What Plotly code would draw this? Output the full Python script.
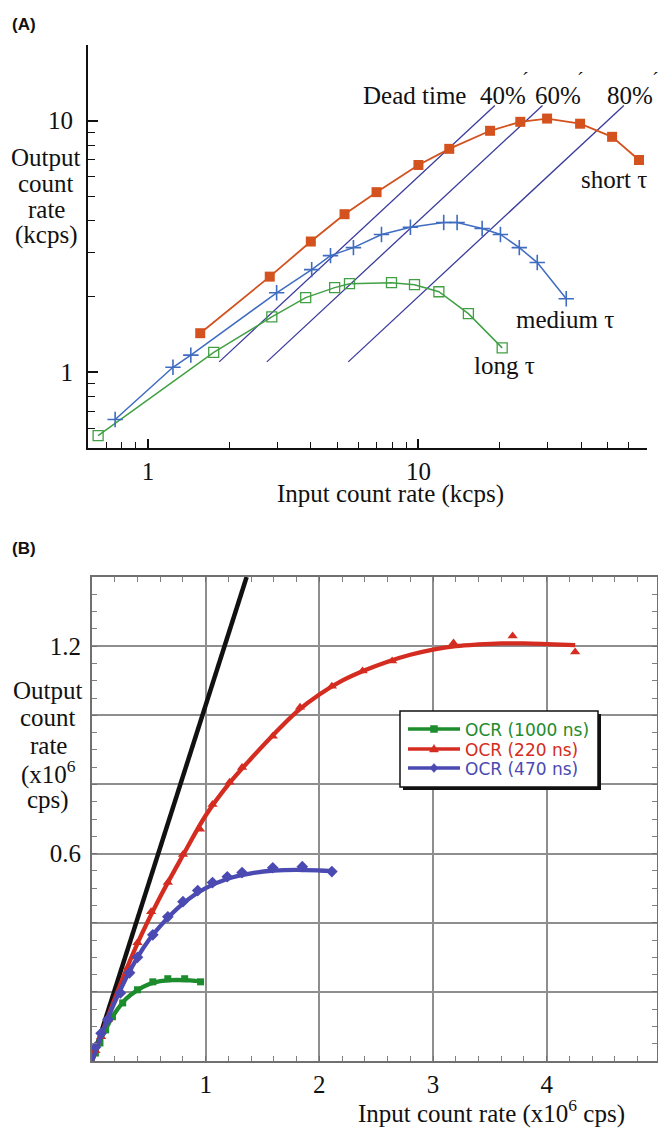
import plotly.graph_objects as go

W, H = 658, 1128

# ---------------- Panel A: log-log count rates (kcps) ----------------
short_x = [1.56, 2.82, 4.0, 5.33, 7.0, 10.0, 13.0, 18.4, 23.8, 29.9, 39.6, 52.0, 65.4]
short_y = [1.43, 2.40, 3.31, 4.25, 5.2, 6.67, 7.73, 9.12, 9.9, 10.2, 9.73, 8.63, 6.98]

medium_x = [0.756, 1.237, 1.44, 2.99, 4.03, 4.73, 5.75, 7.3, 9.34, 12.4, 13.9, 17.2,
            20.1, 23.6, 27.5, 35.2]
medium_y = [0.649, 1.047, 1.17, 2.07, 2.56, 2.91, 3.13, 3.53, 3.77, 3.94, 3.94, 3.73,
            3.53, 3.13, 2.73, 1.96]

long_x = [0.654, 1.75, 2.87, 3.83, 4.9, 5.56, 7.95, 9.67, 11.9, 15.3, 20.4]
long_y = [0.56, 1.20, 1.66, 1.98, 2.17, 2.25, 2.27, 2.23, 2.09, 1.71, 1.25]

# iso-dead-time lines: output = (1 - dead_time) * input
dead_time = [0.4, 0.6, 0.8]
dead_time_labels = ["40%", "60%", "80%"]
dt_out_span = [1.1, 11.5]

# ---------------- Panel B: linear count rates (x10^6 cps) ----------------
ideal_x = [0.0, 1.36]
ideal_y = [0.0, 1.40]

ocr220_x = [0.03, 0.08, 0.14, 0.32, 0.40, 0.52, 0.667, 0.80, 0.95, 1.06, 1.21, 1.32,
            1.59, 1.83, 2.11, 2.38, 2.64, 3.18, 3.70, 4.25]
ocr220_y = [0.03, 0.07, 0.12, 0.272, 0.342, 0.432, 0.516, 0.597, 0.67, 0.742, 0.806,
            0.849, 0.939, 1.023, 1.084, 1.128, 1.157, 1.209, 1.229, 1.183]
fit220_x = [0.0, 0.2, 0.4, 0.6, 0.8, 1.0, 1.2, 1.4, 1.6, 1.8, 2.0, 2.2, 2.4, 2.6, 2.8,
            3.0, 3.2, 3.4, 3.6, 3.8, 4.0, 4.25]
fit220_y = [0.0, 0.18, 0.34, 0.475, 0.595, 0.71, 0.80, 0.875, 0.945, 1.01, 1.06, 1.10,
            1.13, 1.155, 1.175, 1.19, 1.20, 1.205, 1.208, 1.208, 1.206, 1.203]

ocr470_x = [0.03, 0.08, 0.14, 0.25, 0.33, 0.40, 0.535, 0.667, 0.80, 0.93, 1.06, 1.19,
            1.32, 1.59, 1.85, 2.11]
ocr470_y = [0.04, 0.08, 0.12, 0.197, 0.255, 0.30, 0.365, 0.417, 0.461, 0.493, 0.516,
            0.533, 0.545, 0.559, 0.562, 0.548]
fit470_x = [0.0, 0.1, 0.2, 0.3, 0.4, 0.5, 0.6, 0.7, 0.8, 0.9, 1.0, 1.2, 1.4, 1.6, 1.8,
            2.0, 2.11]
fit470_y = [0.0, 0.09, 0.17, 0.24, 0.30, 0.35, 0.39, 0.425, 0.455, 0.48, 0.50, 0.528,
            0.543, 0.551, 0.553, 0.551, 0.549]

ocr1000_x = [0.03, 0.07, 0.12, 0.18, 0.27, 0.40, 0.535, 0.667, 0.815, 0.955]
ocr1000_y = [0.023, 0.052, 0.09, 0.128, 0.168, 0.206, 0.229, 0.238, 0.238, 0.229]
fit1000_x = [0.0, 0.05, 0.1, 0.15, 0.2, 0.3, 0.4, 0.5, 0.6, 0.7, 0.8, 0.955]
fit1000_y = [0.0, 0.04, 0.078, 0.11, 0.138, 0.18, 0.205, 0.222, 0.231, 0.234, 0.234, 0.231]

SERIF = "Liberation Serif, Times New Roman, serif"
SANS = "Liberation Sans, Arial, sans-serif"
LEG_FONT = "DejaVu Sans, Verdana, sans-serif"

C_SHORT = "#d4521e"
C_MED = "#3f6cc0"
C_LONG = "#41a043"
C_DT = "#3b3b9e"
C_GREEN = "#1c8c2c"
C_RED = "#d42c20"
C_BLUE = "#4a4ab2"


def fx(p):
    return p / W


def fy(p):
    return 1 - p / H


fig = go.Figure()

# ---- Panel A traces ----
for dt in dead_time:
    fig.add_trace(go.Scatter(
        x=[v / (1 - dt) for v in dt_out_span], y=dt_out_span, mode="lines",
        line=dict(color=C_DT, width=1.3), showlegend=False, hoverinfo="skip",
        xaxis="x", yaxis="y"))

fig.add_trace(go.Scatter(
    x=long_x, y=long_y, mode="lines+markers", showlegend=False,
    line=dict(color=C_LONG, width=1.5),
    marker=dict(symbol="square-open", size=10, color=C_LONG, line=dict(width=1.3)),
    xaxis="x", yaxis="y"))
fig.add_trace(go.Scatter(
    x=medium_x, y=medium_y, mode="lines+markers", showlegend=False,
    line=dict(color=C_MED, width=1.5),
    marker=dict(symbol="cross-thin", size=11, color=C_MED,
                line=dict(width=1.6, color=C_MED)),
    xaxis="x", yaxis="y"))
fig.add_trace(go.Scatter(
    x=short_x, y=short_y, mode="lines+markers", showlegend=False,
    line=dict(color=C_SHORT, width=1.8),
    marker=dict(symbol="square", size=10, color=C_SHORT),
    xaxis="x", yaxis="y"))

# ---- Panel B traces ----
fig.add_trace(go.Scatter(
    x=ideal_x, y=ideal_y, mode="lines", showlegend=False,
    line=dict(color="#111111", width=4.5), xaxis="x2", yaxis="y2"))

series_b = [
    ("OCR (1000 ns)", C_GREEN, "square", 7, ocr1000_x, ocr1000_y, fit1000_x, fit1000_y),
    ("OCR (220 ns)", C_RED, "triangle-up", 9, ocr220_x, ocr220_y, fit220_x, fit220_y),
    ("OCR (470 ns)", C_BLUE, "diamond", 9, ocr470_x, ocr470_y, fit470_x, fit470_y),
]
for name, col, sym, size, mx, my, lx, ly in series_b:
    fig.add_trace(go.Scatter(
        x=lx, y=ly, mode="lines", line=dict(color=col, width=4.3, shape="spline"),
        showlegend=False, hoverinfo="skip", xaxis="x2", yaxis="y2"))
    fig.add_trace(go.Scatter(
        x=mx, y=my, mode="markers", marker=dict(symbol=sym, size=size, color=col),
        showlegend=False, name=name, xaxis="x2", yaxis="y2"))

# ---- Axes ----
log_minor_x = [0.6, 0.7, 0.8, 0.9, 2, 3, 4, 5, 6, 7, 8, 9, 20, 30, 40, 50, 60, 70]
log_minor_y = [0.5, 0.6, 0.7, 0.8, 0.9, 2, 3, 4, 5, 6, 7, 8, 9, 20]

axis_font = dict(family=SERIF, size=25, color="#111111")

fig.update_layout(
    width=W, height=H, margin=dict(l=0, r=0, t=0, b=0),
    paper_bgcolor="white", plot_bgcolor="white", showlegend=False,
    xaxis=dict(
        type="log", range=[-0.2218, 1.8451], domain=[fx(88), fx(647)],
        anchor="y", showline=True, linecolor="#111111", linewidth=2,
        showgrid=False, zeroline=False,
        tickvals=[1, 10], ticktext=["1", "10"], ticks="inside", ticklen=9,
        tickwidth=1.5, tickcolor="#111111", tickfont=axis_font,
        minor=dict(tickvals=log_minor_x, ticks="inside", ticklen=6, tickwidth=1.2,
                   tickcolor="#111111", showgrid=False),
    ),
    yaxis=dict(
        type="log", range=[-0.30103, 1.30103], domain=[fy(448), fy(45)],
        anchor="x", showline=True, linecolor="#111111", linewidth=2,
        showgrid=False, zeroline=False,
        tickvals=[1, 10], ticktext=["1", "10"], ticks="inside", ticklen=10,
        tickwidth=1.5, tickcolor="#111111", tickfont=axis_font, ticklabelstandoff=8,
        minor=dict(tickvals=log_minor_y, ticks="inside", ticklen=7, tickwidth=1.2,
                   tickcolor="#111111", showgrid=False),
    ),
    xaxis2=dict(
        range=[0, 4.97], domain=[fx(92), fx(657)], anchor="y2",
        showline=True, linecolor="#707070", linewidth=1.8, mirror="ticks",
        showgrid=True, gridcolor="#8e8e8e", gridwidth=1.6, zeroline=False,
        tickvals=[1, 2, 3, 4], ticktext=["1", "2", "3", "4"], ticks="inside",
        ticklen=5, tickcolor="#707070", tickfont=axis_font,
        minor=dict(dtick=0.2, ticks="inside", ticklen=5, tickwidth=1,
                   tickcolor="#808080", showgrid=False),
    ),
    yaxis2=dict(
        range=[0, 1.4], domain=[fy(1061), fy(577)], anchor="x2",
        showline=True, linecolor="#707070", linewidth=1.8, mirror="ticks",
        showgrid=True, gridcolor="#8e8e8e", gridwidth=1.6, zeroline=False,
        tickvals=[0.2, 0.4, 0.6, 0.8, 1.0, 1.2],
        ticktext=["", "", "0.6", "", "", "1.2"], ticks="inside", ticklen=5,
        tickcolor="#707070", tickfont=axis_font, ticklabelstandoff=4,
        minor=dict(dtick=0.05, ticks="inside", ticklen=5, tickwidth=1,
                   tickcolor="#808080", showgrid=False),
    ),
)

# ---- Legend box for panel B (shadowed frame, line + marker samples) ----
shapes = []


def prect(x0, y0, x1, y1, **kw):
    shapes.append(dict(type="rect", xref="paper", yref="paper", x0=fx(x0), x1=fx(x1),
                       y0=fy(y1), y1=fy(y0), layer="above", **kw))


def ppath(pts, col):
    d = "M " + " L ".join(f"{fx(a):.5f},{fy(b):.5f}" for a, b in pts) + " Z"
    shapes.append(dict(type="path", path=d, xref="paper", yref="paper",
                       fillcolor=col, line=dict(color=col, width=0.5), layer="above"))


prect(403, 714, 601, 790, fillcolor="#111111", line=dict(width=0))
prect(400, 711, 598, 787, fillcolor="white", line=dict(color="#111111", width=1.5))

leg_rows = [729, 749, 768]
ann = []


def text(s, x, y, size=25, family=SERIF, color="#111111", xanchor="center"):
    ann.append(dict(text=s, x=fx(x), y=fy(y), xref="paper", yref="paper",
                    xanchor=xanchor, yanchor="middle", showarrow=False,
                    font=dict(family=family, size=size, color=color)))


for (name, col, sym, *_), ry in zip(series_b, leg_rows):
    shapes.append(dict(type="line", xref="paper", yref="paper",
                       x0=fx(408), x1=fx(460), y0=fy(ry), y1=fy(ry),
                       line=dict(color=col, width=3.5), layer="above"))
    cx = 434
    if sym == "square":
        ppath([(cx - 3.5, ry - 3.5), (cx + 3.5, ry - 3.5), (cx + 3.5, ry + 3.5),
               (cx - 3.5, ry + 3.5)], col)
    elif sym == "triangle-up":
        ppath([(cx, ry - 4.5), (cx + 4.5, ry + 3), (cx - 4.5, ry + 3)], col)
    else:
        ppath([(cx, ry - 4.5), (cx + 4, ry), (cx, ry + 4.5), (cx - 4, ry)], col)
    text(name, 463, ry + 0.5, size=17, family=LEG_FONT, color=col, xanchor="left")

fig.update_layout(shapes=shapes)

# ---- Text ----
text("<b>(A)</b>", 24, 24, size=17, family=SANS)
text("<b>(B)</b>", 24, 548, size=17, family=SANS)

for i, line in enumerate(["Output", "count", "rate", "(kcps)"]):
    text(line, 46, 157 + i * 26)
text("Input count rate (kcps)", 390, 494)

text("Dead time", 414, 95)
for lab, cx in zip(dead_time_labels, [503, 558, 630]):
    text(lab, cx, 95)
for cx in [525, 580, 655]:
    text("\u00b4", cx, 80, size=20)
text("short \u03c4", 614, 180)
text("medium \u03c4", 565, 319)
text("long \u03c4", 504, 365)

for i, line in enumerate(["Output", "count", "rate", "(x10<sup>6</sup>", "cps)"]):
    text(line, 48, 690 + i * 27.5)
text("Input count rate (x10<sup>6</sup> cps)", 491, 1111)

fig.update_layout(annotations=ann)

fig.write_html("out.html")
